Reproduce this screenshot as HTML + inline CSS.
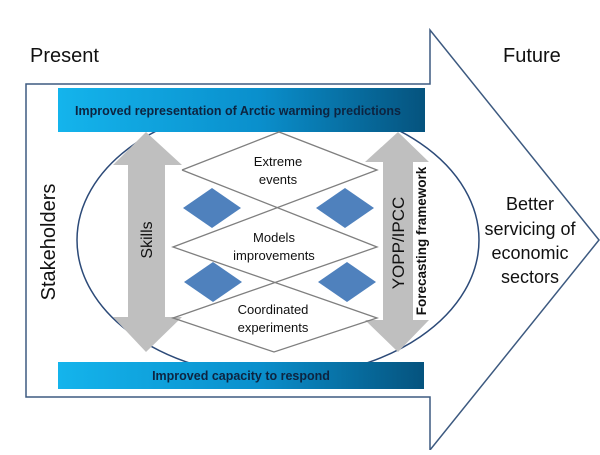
<!DOCTYPE html>
<html><head><meta charset="utf-8"><style>body{margin:0;background:#fff}</style></head><body>
<svg width="600" height="450" viewBox="0 0 600 450" xmlns="http://www.w3.org/2000/svg" font-family="Liberation Sans, sans-serif">
<defs>
<linearGradient id="g" x1="0" x2="1" y1="0" y2="0"><stop offset="0" stop-color="#14b4ec"/><stop offset="0.55" stop-color="#0a8fcc"/><stop offset="1" stop-color="#05537e"/></linearGradient>
</defs>
<polygon points="26,84 430,84 430,30 599,240 430,450 430,397 26,397" fill="#fff" stroke="#3d5a80" stroke-width="1.5"/>
<ellipse cx="278" cy="240" rx="201" ry="137" fill="#fff" stroke="#2c4a78" stroke-width="1.5"/>
<rect x="58" y="88" width="367" height="44" fill="url(#g)"/>
<rect x="58" y="362" width="366" height="27" fill="url(#g)"/>
<text x="238" y="115" font-size="12.5" font-weight="bold" fill="#0d2440" text-anchor="middle">Improved representation of Arctic warming predictions</text>
<text x="241" y="380" font-size="12.5" font-weight="bold" fill="#0d2440" text-anchor="middle">Improved capacity to respond</text>
<polygon points="146,132 182,165 165,165 165,317 182,317 146,352 113,317 128,317 128,165 113,165" fill="#bfbfbf"/>
<polygon points="398,132 429,162 413,162 413,320 429,320 398,352 365,320 383,320 383,162 365,162" fill="#bfbfbf"/>
<rect x="413" y="162" width="17" height="158" fill="#fff"/>
<g fill="none" stroke="#7f7f7f" stroke-width="1.3">
<polyline points="182,170 279,132 377,170 173,247 377,318 274,352 173,318 377,247 182,170"/>
</g>
<g fill="#4f81bd">
<polygon points="183,208 212,188 241,208 212,228"/>
<polygon points="316,208 345,188 374,208 345,228"/>
<polygon points="184,282 213,262 242,282 213,302"/>
<polygon points="318,282 347,262 376,282 347,302"/>
</g>
<g font-size="13" fill="#111" text-anchor="middle">
<text x="278" y="166">Extreme</text><text x="278" y="184">events</text>
<text x="274" y="242">Models</text><text x="274" y="260">improvements</text>
<text x="273" y="314">Coordinated</text><text x="273" y="332">experiments</text>
</g>
<text x="30" y="62" font-size="20" fill="#111">Present</text>
<text x="503" y="62" font-size="20" fill="#111">Future</text>
<text transform="translate(55,242) rotate(-90)" font-size="20" fill="#111" text-anchor="middle">Stakeholders</text>
<text transform="translate(152,240) rotate(-90)" font-size="16" fill="#111" text-anchor="middle">Skills</text>
<text transform="translate(404,243) rotate(-90)" font-size="17" fill="#111" text-anchor="middle">YOPP/IPCC</text>
<text transform="translate(426,241) rotate(-90)" font-size="13.5" font-weight="bold" fill="#111" text-anchor="middle">Forecasting framework</text>
<g font-size="18" fill="#111" text-anchor="middle">
<text x="530" y="210">Better</text><text x="530" y="235">servicing of</text><text x="530" y="259">economic</text><text x="530" y="283">sectors</text>
</g>
</svg>
</body></html>
